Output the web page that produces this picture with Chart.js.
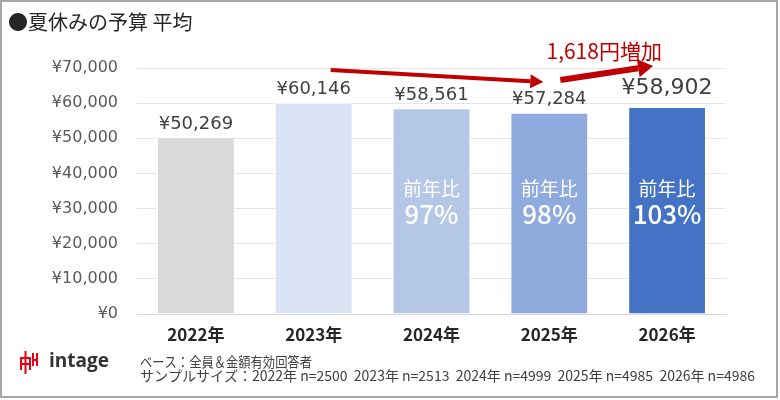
<!DOCTYPE html>
<html>
<head>
<meta charset="utf-8">
<script src="https://cdn.jsdelivr.net/npm/chart.js@4.4.1/dist/chart.umd.min.js"></script>
<style>
  html, body { margin: 0; padding: 0; background: #ffffff; }
  #wrap { width: 780px; height: 400px; position: relative; }
</style>
</head>
<body>
<div id="wrap"><canvas id="budgetChart" width="780" height="400"></canvas></div>
<script>
// データ
const categories = ['2022年', '2023年', '2024年', '2025年', '2026年'];
const budgetValues = [50269, 60146, 58561, 57284, 58902];
const yoyPercent = [null, null, 97, 98, 103];
const barColors = ['#d9d9d9', '#dae3f3', '#b4c7e7', '#8faadc', '#4472c4'];
const yTicks = [0, 10000, 20000, 30000, 40000, 50000, 60000, 70000];

const titleText = '●夏休みの予算 平均';
const increaseText = '1,618円増加';
const baseNote = 'ベース：全員＆金額有効回答者';
const sampleNote = 'サンプルサイズ：2022年 n=2500  2023年 n=2513  2024年 n=4999  2025年 n=4985  2026年 n=4986';

const JP = '"Noto Sans CJK JP", "Noto Sans", sans-serif';
const NUM = '"DejaVu Sans", sans-serif';

function yen(v) {
    return '¥' + v.toLocaleString('en-US');
}

function drawArrow(ctx, x1, y1, x2, y2, width, headLen, headWidth) {
    const ang = Math.atan2(y2 - y1, x2 - x1);
    const bx = x2 - headLen * Math.cos(ang);
    const by = y2 - headLen * Math.sin(ang);
    ctx.save();
    ctx.strokeStyle = '#c00000';
    ctx.fillStyle = '#c00000';
    ctx.lineWidth = width;
    ctx.beginPath();
    ctx.moveTo(x1, y1);
    ctx.lineTo(bx, by);
    ctx.stroke();
    ctx.beginPath();
    ctx.moveTo(x2, y2);
    ctx.lineTo(bx + headWidth * Math.sin(ang), by - headWidth * Math.cos(ang));
    ctx.lineTo(bx - headWidth * Math.sin(ang), by + headWidth * Math.cos(ang));
    ctx.closePath();
    ctx.fill();
    ctx.restore();
}

// ラベル・注釈
const decorPlugin = {
    id: 'decor',
    afterDatasetsDraw(chart) {
        const ctx = chart.ctx;
        const meta = chart.getDatasetMeta(0);
        const xs = chart.scales.x;

        ctx.save();
        ctx.textAlign = 'center';
        ctx.textBaseline = 'middle';
        meta.data.forEach(function(bar, i) {
            const last = i === budgetValues.length - 1;
            ctx.fillStyle = '#404040';
            ctx.font = (last ? '22px ' : '18px ') + NUM;
            ctx.fillText(yen(budgetValues[i]), bar.x, bar.y - (last ? 19 : 13));
            if (yoyPercent[i] !== null) {
                ctx.fillStyle = '#ffffff';
                ctx.font = '19px ' + JP;
                ctx.fillText('前年比', bar.x, 189);
                ctx.font = '500 26px ' + JP;
                ctx.fillText(yoyPercent[i] + '%', bar.x, 214);
            }
        });

        // 矢印
        const x1 = xs.getPixelForValue(1);
        const x3 = xs.getPixelForValue(3);
        const x4 = xs.getPixelForValue(4);
        drawArrow(ctx, x1 + 17, 70, x3 - 6, 82, 4, 13, 7);
        drawArrow(ctx, x3 + 11, 80, x4 - 14, 66, 6, 15, 9);

        ctx.fillStyle = '#c00000';
        ctx.font = '21px ' + JP;
        ctx.fillText(increaseText, (x3 + x4) / 2 - 4, 51);

        // タイトル
        ctx.textAlign = 'left';
        ctx.fillStyle = '#262626';
        ctx.font = '20px ' + JP;
        ctx.fillText(titleText, 8, 22);

        // 注記
        ctx.fillStyle = '#404040';
        ctx.font = '14px ' + JP;
        ctx.fillText(baseNote, 140, 362, 172);
        ctx.fillText(sampleNote, 140, 376, 615);

        // ロゴ
        ctx.strokeStyle = '#e60012';
        ctx.lineWidth = 2;
        ctx.beginPath();
        ctx.moveTo(20, 358); ctx.lineTo(31, 358);
        ctx.moveTo(25.5, 351); ctx.lineTo(25.5, 374);
        ctx.moveTo(21, 364); ctx.lineTo(30, 364);
        ctx.moveTo(21, 358); ctx.lineTo(21, 370);
        ctx.moveTo(30, 358); ctx.lineTo(30, 370);
        ctx.moveTo(33, 353); ctx.lineTo(33, 366);
        ctx.moveTo(37, 353); ctx.lineTo(37, 366);
        ctx.moveTo(33, 360); ctx.lineTo(37, 360);
        ctx.stroke();
        ctx.fillStyle = '#333333';
        ctx.font = 'bold 19px "Open Sans", sans-serif';
        ctx.fillText('intage', 49, 362, 63);

        // 枠線
        ctx.strokeStyle = '#a6a6a6';
        ctx.lineWidth = 2;
        ctx.strokeRect(1, 1, 776, 396);
        ctx.restore();
    }
};

new Chart(document.getElementById('budgetChart'), {
    type: 'bar',
    data: {
        labels: categories,
        datasets: [{
            data: budgetValues,
            backgroundColor: barColors,
            borderColor: '#ffffff',
            borderWidth: 1,
            categoryPercentage: 1,
            barPercentage: 0.66
        }]
    },
    options: {
        responsive: false,
        animation: false,
        devicePixelRatio: 1,
        layout: { padding: { top: 68, right: 54, bottom: 50, left: 0 } },
        plugins: {
            legend: { display: false },
            tooltip: { enabled: false }
        },
        scales: {
            x: {
                grid: { display: false },
                border: { color: '#d9d9d9' },
                ticks: {
                    color: '#262626',
                    font: { family: JP, size: 17, weight: 'bold' },
                    padding: 2
                },
                afterFit(scale) { scale.height = 36; }
            },
            y: {
                min: 0,
                max: 70000,
                afterBuildTicks(scale) {
                    scale.ticks = yTicks.map(function(v) { return { value: v }; });
                },
                grid: { color: '#e6e6e6', drawTicks: false },
                border: { display: false },
                ticks: {
                    color: '#595959',
                    font: { family: NUM, size: 16 },
                    padding: 19,
                    callback: function(v) { return yen(v); }
                },
                afterFit(scale) { scale.width = 137; }
            }
        }
    },
    plugins: [decorPlugin]
});
</script>
</body>
</html>
